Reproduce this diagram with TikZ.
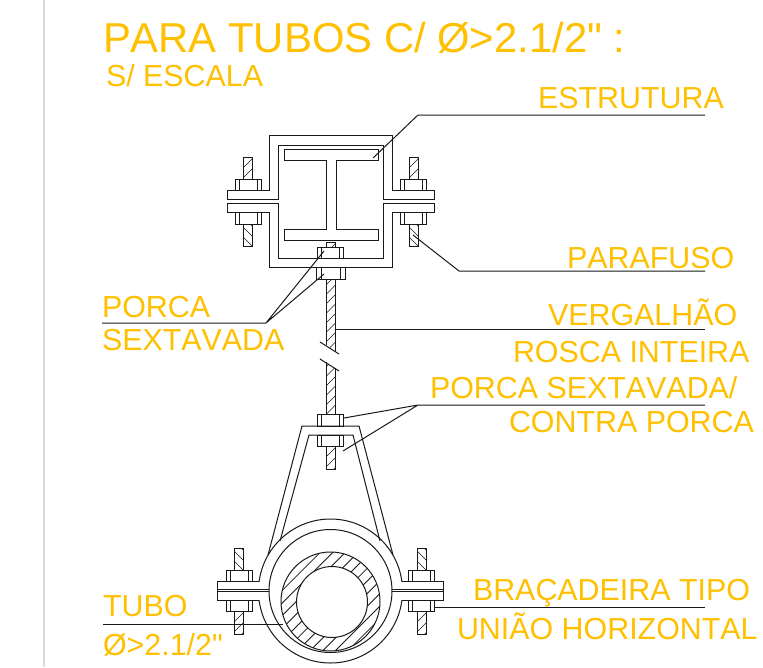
\documentclass[tikz,border=0pt]{standalone}
\usepackage{fontspec}
\setmainfont{Liberation Sans}[Kerning=Off]
\newfontfamily\lblfont{Liberation Sans}[Kerning=Off,Mapping=]
\definecolor{labelc}{HTML}{FFC000}
\definecolor{barc}{HTML}{D9D9D9}
\tikzset{
  part/.style={draw=black!90,line width=1pt,line join=miter},
  hatchline/.style={draw=black!90,line width=.65pt},
  tubehatch/.style={draw=black!90,line width=.85pt},
  leader/.style={draw=black!90,line width=1pt},
  lab/.style={text=labelc,anchor=base west,inner sep=0pt,outer sep=0pt,font=\lblfont\fontsize{30.4}{36}\selectfont},
}
% x1 y1 x2 y2 direction(1 = /, -1 = \)
\newcommand\hatchbar[5]{%
  \begin{scope}
    \clip (#1,#2) rectangle (#3,#4);
    \foreach \k in {-3,...,16}{
      \pgfmathsetmacro\ya{#2+10*\k+2}
      \pgfmathsetmacro\yb{\ya-#5*(#3-#1+2)}
      \draw[hatchline] (#1-1,\ya) -- (#3+1,\yb);
    }
  \end{scope}
  \draw[part] (#1,#2) rectangle (#3,#4);
}
% xcentre of nut, y1 y2, half widths 13 and 9
\newcommand\nutbox[3]{%
  \draw[part] (#1-13,#2) rectangle (#1+13,#3);
  \draw[part] (#1-9,#2) -- (#1-9,#3) (#1+9,#2) -- (#1+9,#3);
}
\begin{document}
\begin{tikzpicture}[x=1pt,y=-1pt]
\useasboundingbox (0,0) rectangle (763,667);
\fill[white] (0,0) rectangle (763,667);
\fill[barc] (42.5,0) rectangle (44.5,667);

% texts
\node[lab,font=\lblfont\fontsize{41.8}{48}\selectfont] (title) at (103,52) {PARA TUBOS C/ Ø>2.1/2" :};
\node[lab] (scale) at (106,86) {S/ ESCALA};
\node[lab] (estr) at (538,108) {ESTRUTURA};
\node[lab] (paraf) at (567,268) {PARAFUSO};
\node[lab] (verg) at (548,325) {VERGALHÃO};
\node[lab] (rosca) at (513,362) {ROSCA INTEIRA};
\node[lab] (porcas) at (430,398) {PORCA SEXTAVADA/};
\node[lab] (contra) at (509,432) {CONTRA PORCA};
\node[lab] (porca) at (102,317) {PORCA};
\node[lab] (sext) at (102,350) {SEXTAVADA};
\node[lab] (tubo) at (103,616) {TUBO};
\node[lab] (diam) at (103,655) {Ø>2.1/2"};
\node[lab] (brac) at (473,600) {BRAÇADEIRA TIPO};
\node[lab] (uniao) at (457,639) {UNIÃO HORIZONTAL};

% channel (two halves)
\draw[part] (227,190) -- (269,190) -- (269,135) -- (392,135) -- (392,190) -- (434,190) -- (434,199.5) -- (383,199.5) -- (383,145) -- (278,145) -- (278,199.5) -- (227,199.5) -- cycle;
\draw[part] (227,203) -- (278,203) -- (278,258) -- (383,258) -- (383,203) -- (434,203) -- (434,212) -- (392,212) -- (392,267) -- (269,267) -- (269,212) -- (227,212) -- cycle;
% I beam
\draw[part] (284,149) -- (378,149) -- (378,160) -- (336,160) -- (336,229) -- (378,229) -- (378,240) -- (284,240) -- (284,229) -- (326,229) -- (326,160) -- (284,160) -- cycle;
% channel bolts
\hatchbar{243}{157}{252}{179}{1}
\hatchbar{243}{224}{252}{246}{-1}
\nutbox{248}{179}{190}
\nutbox{248}{212}{224}
\hatchbar{409}{157}{418}{179}{1}
\hatchbar{409}{224}{418}{246}{-1}
\nutbox{413.5}{179}{190}
\nutbox{413.5}{212}{224}
% central nut inside the channel
\hatchbar{326}{242}{335}{247}{1}
\nutbox{330}{247}{258}
\draw[part] (316,267) rectangle (345,279);
\draw[part] (321,267) -- (321,279) (340,267) -- (340,279);

% threaded rod, broken
\begin{scope}
  \clip (326,279) -- (335,279) -- (335,351) -- (326,345) -- cycle;
  \foreach \k in {0,...,8}{
    \draw[hatchline] (325,{286+9.5*\k}) -- (336,{275+9.5*\k});
  }
\end{scope}
\draw[part] (326,345) -- (326,279) (335,279) -- (335,351);
\draw[part] (320,342) -- (339,354) (320,359) -- (339,371);
\begin{scope}
  \clip (326,362) -- (335,368) -- (335,414) -- (326,414) -- cycle;
  \foreach \k in {0,...,6}{
    \draw[hatchline] (325,{368+9.5*\k}) -- (336,{357+9.5*\k});
  }
\end{scope}
\draw[part] (326,362) -- (326,414) (335,368) -- (335,414);
\hatchbar{326}{446}{335}{469}{1}

% nuts on the strap
\nutbox{330.5}{414}{426}
\nutbox{330.5}{435}{446}

% clamp
\draw[part] (330.5,591) circle[radius=72pt];
\draw[part] (330.5,591) circle[radius=61.5pt];
\fill[white] (256,581.5) rectangle (268,599.5);
\fill[white] (393,581.5) rectangle (405,599.5);
\draw[part] (268,555) -- (302,426) -- (359,426) -- (393,555);
\draw[part] (280,541) -- (309,435) -- (353,435) -- (380,541);
% tube
\fill[white] (330.5,601.5) circle[radius=49.5pt];
\begin{scope}
  \clip (330.5,601.5) circle[radius=49.5pt];
  \foreach \k in {0,...,16}{
    \draw[tubehatch] (270,{590+12.6*\k}) -- (400,{460+12.6*\k});
  }
\end{scope}
\draw[part] (330.5,601.5) circle[radius=49.5pt];
\fill[white] (332,602) circle[radius=35.5pt];
\draw[part] (332,602) circle[radius=35.5pt];
% clamp flanges
\draw[part] (259,581) -- (217,581) -- (217,600) -- (259,600);
\draw[part] (217,589.5) -- (269,589.5) (217,591.5) -- (269,591.5);
\draw[part] (402,581) -- (443,581) -- (443,600) -- (402,600);
\draw[part] (392,589.5) -- (443,589.5) (392,591.5) -- (443,591.5);
% clamp bolts
\hatchbar{234}{548}{243}{570}{-1}
\hatchbar{234}{611}{243}{634}{1}
\nutbox{239}{570}{581}
\nutbox{239}{600}{611}
\hatchbar{417}{548}{426}{570}{-1}
\hatchbar{417}{611}{426}{634}{1}
\nutbox{421.5}{570}{581}
\nutbox{421.5}{600}{611}

% leader anchors
\coordinate (e0) at (705,115); \coordinate (e1) at (418,115); \coordinate (e2) at (373,158);
\coordinate (p0) at (705,271); \coordinate (p1) at (459,271); \coordinate (p2) at (413,235);
\coordinate (v0) at (705,329); \coordinate (v1) at (335,329);
\coordinate (s0) at (705,405); \coordinate (s1) at (418,405); \coordinate (s2) at (344,418); \coordinate (s3) at (343,451);
\coordinate (n0) at (102,323); \coordinate (n1) at (266,323); \coordinate (n2) at (324,251); \coordinate (n3) at (324,274);
\coordinate (t0) at (103,624); \coordinate (t1) at (283,624);
\coordinate (b0) at (705,607); \coordinate (b1) at (435,607);
\draw[leader] (e0) -- (e1) -- (e2);
\draw[leader] (p0) -- (p1) -- (p2);
\draw[leader] (v0) -- (v1);
\draw[leader] (s0) -- (s1) -- (s2) (s1) -- (s3);
\draw[leader] (n0) -- (n1) -- (n2) (n1) -- (n3);
\draw[leader] (t0) -- (t1);
\draw[leader] (b0) -- (b1);
\end{tikzpicture}
\end{document}
